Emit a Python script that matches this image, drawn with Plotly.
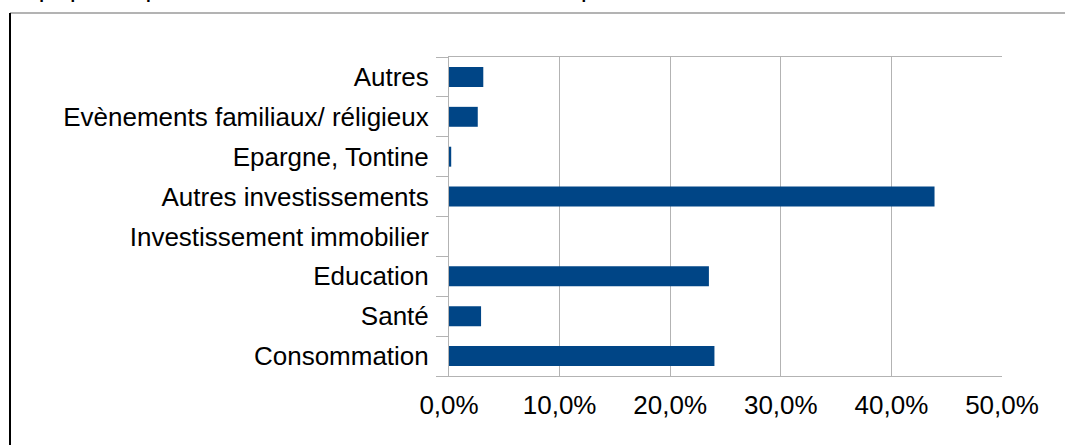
import plotly.graph_objects as go

categories = ["Consommation", "Santé", "Education", "Investissement immobilier",
              "Autres investissements", "Epargne, Tontine",
              "Evènements familiaux/ réligieux", "Autres"]
values = [24.0, 2.9, 23.5, 0.0, 43.9, 0.2, 2.6, 3.1]
x_ticks = [0, 10, 20, 30, 40, 50]
x_labels = ["0,0%", "10,0%", "20,0%", "30,0%", "40,0%", "50,0%"]
title_text = "Graphique 9 : Répartition des transferts selon leur utilisation économique"

W, H = 1065, 445
L, R, T, B = 449, 63, 57, 69
ph = H - T - B
pw = W - L - R

fig = go.Figure()
fig.add_trace(go.Bar(y=categories, x=values, orientation="h",
                     marker=dict(color="#004586", line=dict(width=0)),
                     width=0.5))

fig.update_layout(
    width=W, height=H,
    margin=dict(l=L, r=R, t=T, b=B, autoexpand=False),
    paper_bgcolor="white", plot_bgcolor="white",
    font=dict(family="Liberation Sans, Arial, sans-serif", size=26, color="#000000"),
    showlegend=False,
    xaxis=dict(range=[0, 50], tickvals=x_ticks, ticktext=x_labels,
               showgrid=True, gridcolor="#b3b3b3", gridwidth=1,
               showline=True, linecolor="#b3b3b3", mirror=True,
               zeroline=False, ticks="", ticklabelstandoff=6, automargin=False),
    yaxis=dict(showgrid=False, showline=True, linecolor="#b3b3b3",
               ticks="outside", tickson="boundaries", ticklen=12,
               tickcolor="#b3b3b3", zeroline=False, ticklabelstandoff=14,
               automargin=False),
)

# frame lines of the surrounding box
fig.add_shape(type="line", xref="paper", yref="paper",
              x0=-(L - 10) / pw, x1=(pw + R) / pw,
              y0=1 + (T - 13) / ph, y1=1 + (T - 13) / ph,
              line=dict(color="#b3b3b3", width=2))
fig.add_shape(type="line", xref="paper", yref="paper",
              x0=-(L - 10) / pw, x1=-(L - 10) / pw,
              y0=1 + (T - 13) / ph, y1=-B / ph - 0.01,
              line=dict(color="#000000", width=2))

# title, clipped at the top edge as in the source
fig.add_annotation(text="<b>" + title_text + "</b>", xref="paper", yref="paper",
                   x=-(L - 8) / pw, y=1 + (T - 5) / ph, xanchor="left", yanchor="bottom",
                   showarrow=False, font=dict(size=17))

fig.write_html("out.html", config={"displayModeBar": False},
               post_script="document.body.style.margin='0px';")
